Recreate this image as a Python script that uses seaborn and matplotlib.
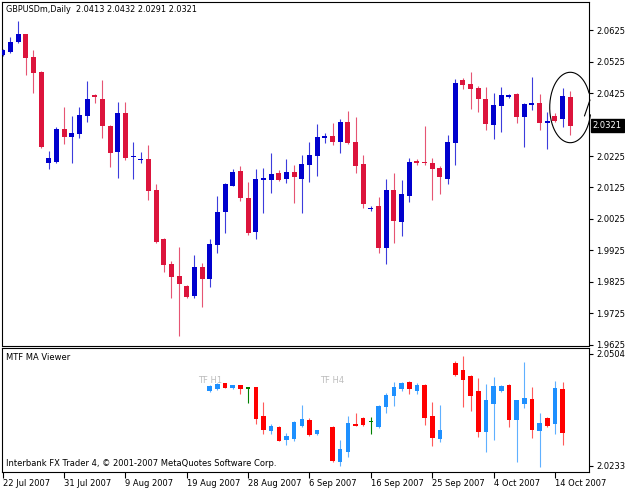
import numpy as np
import pandas as pd
import seaborn as sns
import matplotlib
matplotlib.use("Agg")
import matplotlib.pyplot as plt
import matplotlib.transforms as mtrans

# ---------------- data ----------------
symbol = "GBPUSDm,Daily"
main_open = [2.0546, 2.0556, 2.0586, 2.0612, 2.0538, 2.0493, 2.0202, 2.0207, 2.0310, 2.0286,
             2.0295, 2.0353, 2.0419, 2.0407, 2.0321, 2.0238, 2.0361, 2.0222, 2.0213, 2.0215,
             2.0117, 1.9961, 1.9881, 1.9844, 1.9813, 1.9781, 1.9874, 1.9835, 1.9942, 2.0048,
             2.0131, 2.0178, 2.0093, 1.9985, 2.0149, 2.0149, 2.0170, 2.0151, 2.0173, 2.0152,
             2.0196, 2.0225, 2.0282, 2.0288, 2.0270, 2.0334, 2.0270, 2.0200, 2.0057, 2.0067,
             1.9932, 2.0117, 2.0016, 2.0099, 2.0209, 2.0206, 2.0202, 2.0186, 2.0152, 2.0267,
             2.0466, 2.0453, 2.0440, 2.0407, 2.0323, 2.0384, 2.0413, 2.0422, 2.0350, 2.0387,
             2.0392, 2.0329, 2.0353, 2.0341, 2.0413]
main_high = [2.0565, 2.0602, 2.0654, 2.0613, 2.0562, 2.0495, 2.0242, 2.0316, 2.0380, 2.0352,
             2.0380, 2.0463, 2.0422, 2.0466, 2.0322, 2.0397, 2.0395, 2.0270, 2.0239, 2.0260,
             2.0136, 1.9964, 1.9893, 1.9937, 1.9815, 1.9911, 1.9886, 1.9962, 2.0098, 2.0140,
             2.0183, 2.0194, 2.0142, 2.0183, 2.0186, 2.0234, 2.0181, 2.0215, 2.0196, 2.0228,
             2.0270, 2.0326, 2.0299, 2.0331, 2.0341, 2.0368, 2.0350, 2.0228, 2.0067, 2.0094,
             2.0151, 2.0172, 2.0149, 2.0218, 2.0215, 2.0320, 2.0218, 2.0193, 2.0292, 2.0468,
             2.0472, 2.0493, 2.0447, 2.0443, 2.0424, 2.0443, 2.0422, 2.0424, 2.0392, 2.0477,
             2.0422, 2.0366, 2.0361, 2.0440, 2.0432]
main_low = [2.0543, 2.0553, 2.0585, 2.0482, 2.0424, 2.0250, 2.0183, 2.0204, 2.0263, 2.0204,
            2.0281, 2.0334, 2.0392, 2.0281, 2.0189, 2.0154, 2.0212, 2.0152, 2.0204, 2.0085,
            1.9950, 1.9858, 1.9773, 1.9654, 1.9775, 1.9773, 1.9745, 1.9808, 1.9918, 1.9980,
            2.0130, 2.0083, 1.9974, 1.9961, 2.0043, 2.0109, 2.0147, 2.0138, 2.0077, 2.0043,
            2.0142, 2.0161, 2.0267, 2.0260, 2.0234, 2.0263, 2.0170, 2.0061, 2.0051, 1.9916,
            1.9881, 1.9950, 1.9971, 2.0080, 2.0196, 2.0198, 2.0085, 2.0104, 2.0136, 2.0196,
            2.0437, 2.0373, 2.0366, 2.0308, 2.0278, 2.0302, 2.0410, 2.0331, 2.0255, 2.0371,
            2.0308, 2.0246, 2.0334, 2.0316, 2.0291]
main_close = [2.0562, 2.0586, 2.0611, 2.0535, 2.0489, 2.0253, 2.0218, 2.0311, 2.0286, 2.0297,
              2.0355, 2.0407, 2.0411, 2.0320, 2.0236, 2.0361, 2.0220, 2.0225, 2.0215, 2.0115,
              1.9953, 1.9879, 1.9842, 1.9818, 1.9778, 1.9874, 1.9835, 1.9946, 2.0048, 2.0136,
              2.0175, 2.0091, 1.9982, 2.0151, 2.0156, 2.0168, 2.0149, 2.0173, 2.0157, 2.0200,
              2.0228, 2.0286, 2.0288, 2.0270, 2.0334, 2.0267, 2.0194, 2.0073, 2.0061, 1.9932,
              2.0117, 2.0019, 2.0103, 2.0207, 2.0203, 2.0203, 2.0183, 2.0157, 2.0270, 2.0458,
              2.0450, 2.0437, 2.0405, 2.0327, 2.0387, 2.0419, 2.0419, 2.0350, 2.0389, 2.0392,
              2.0329, 2.0336, 2.0337, 2.0415, 2.0321]

# MTF MA Viewer indicator (bar index, OHLC)
ind_index = [27, 28, 29, 30, 31, 32, 33, 34, 35, 36, 37, 38, 39, 40, 41,
             43, 44, 45, 46, 47, 48, 49, 50, 51, 52, 53, 54, 55, 56, 57,
             59, 60, 61, 62, 63, 64, 65, 66, 67, 68, 69, 70, 71, 72, 73]
ind_open = [2.0413, 2.0419, 2.0433, 2.0421, 2.0428, 2.0421, 2.0423, 2.0354, 2.0316, 2.0328,
            2.0295, 2.0297, 2.0329, 2.0344, 2.0309,
            2.0328, 2.0243, 2.0267, 2.0334, 2.0348, 2.0340, 2.0328, 2.0375, 2.0402, 2.0418,
            2.0437, 2.0413, 2.0429, 2.0354, 2.0297,
            2.0481, 2.0465, 2.0451, 2.0413, 2.0315, 2.0382, 2.0413, 2.0429, 2.0344, 2.0383,
            2.0394, 2.0317, 2.0349, 2.0334, 2.0419]
ind_high = [2.0429, 2.0434, 2.0434, 2.0429, 2.0429, 2.0423, 2.0423, 2.0388, 2.0334, 2.0329,
            2.0312, 2.0342, 2.0380, 2.0348, 2.0320,
            2.0330, 2.0295, 2.0354, 2.0360, 2.0351, 2.0352, 2.0380, 2.0409, 2.0437, 2.0436,
            2.0439, 2.0433, 2.0431, 2.0388, 2.0380,
            2.0486, 2.0498, 2.0453, 2.0445, 2.0430, 2.0447, 2.0428, 2.0431, 2.0393, 2.0484,
            2.0423, 2.0362, 2.0350, 2.0439, 2.0435]
ind_low = [2.0411, 2.0417, 2.0421, 2.0420, 2.0406, 2.0384, 2.0334, 2.0309, 2.0310, 2.0293,
           2.0283, 2.0294, 2.0326, 2.0305, 2.0308,
           2.0243, 2.0232, 2.0253, 2.0329, 2.0330, 2.0310, 2.0324, 2.0360, 2.0378, 2.0413,
           2.0407, 2.0407, 2.0332, 2.0281, 2.0291,
           2.0450, 2.0376, 2.0366, 2.0302, 2.0267, 2.0295, 2.0412, 2.0326, 2.0243, 2.0372,
           2.0300, 2.0231, 2.0327, 2.0310, 2.0282]
ind_close = [2.0427, 2.0431, 2.0422, 2.0428, 2.0418, 2.0421, 2.0346, 2.0320, 2.0329, 2.0294,
             2.0305, 2.0340, 2.0346, 2.0307, 2.0319,
             2.0245, 2.0273, 2.0336, 2.0329, 2.0332, 2.0340, 2.0378, 2.0405, 2.0423, 2.0434,
             2.0418, 2.0429, 2.0348, 2.0299, 2.0320,
             2.0453, 2.0441, 2.0402, 2.0315, 2.0392, 2.0427, 2.0427, 2.0344, 2.0392, 2.0397,
             2.0320, 2.0336, 2.0329, 2.0422, 2.0312]
tf_label_bars = [27, 43]
tf_labels = ["TF H1", "TF H4"]

date_tick_bars = [0, 8, 16, 24, 32, 40, 48, 56, 64, 72]
date_tick_labels = ["22 Jul 2007", "31 Jul 2007", "9 Aug 2007", "19 Aug 2007", "28 Aug 2007",
                    "6 Sep 2007", "16 Sep 2007", "25 Sep 2007", "4 Oct 2007", "14 Oct 2007"]
main_price_ticks = [2.0625, 2.0525, 2.0425, 2.0225, 2.0125, 2.0025, 1.9925, 1.9825, 1.9725, 1.9625]
ind_price_ticks = [2.0504, 2.0233]

# hand-drawn circle annotation (bar units, price units)
circle_center = (74.0, 2.0379)
circle_radii = (2.68, 0.01118)

# ---------------- style ----------------
sns.set_theme(style="white")
plt.rcParams["font.family"] = ["DejaVu Sans"]
plt.rcParams["axes.edgecolor"] = "black"
plt.rcParams["axes.linewidth"] = 0.8

W, H = 625, 488
fig = plt.figure(figsize=(W / 100, H / 100), dpi=100)
fig.patch.set_facecolor("white")


def px_axes(left, top, right, bottom):
    return fig.add_axes([left / W, 1 - bottom / H, (right - left) / W, (bottom - top) / H])


ax = px_axes(2, 2, 589.3, 345.5)
ax2 = px_axes(2, 347.8, 589.3, 471.5)

xlim = (-0.091, 76.48)


def draw_candles(a, df, colors, width, min_h, lw=0.8):
    diff = df["c"] - df["o"]
    kind = np.where(diff > 0, "up", np.where(diff < 0, "down", "eq"))
    body_c = [colors[k][0] for k in kind]
    wick_c = [colors[k][1] for k in kind]
    a.vlines(df["x"], df["l"], df["h"], colors=wick_c, linewidth=lw, zorder=2)
    lo = np.minimum(df["o"], df["c"])
    hgt = np.abs(diff)
    small = hgt < min_h
    mid = (df["o"] + df["c"]) / 2
    bottom = np.where(small, mid - min_h / 2, lo)
    hgt = np.where(small, min_h, hgt)
    a.bar(df["x"], hgt, width=width, bottom=bottom, color=body_c, linewidth=0, zorder=3)


main_df = pd.DataFrame({"x": np.arange(len(main_open)), "o": main_open, "h": main_high,
                        "l": main_low, "c": main_close})
main_colors = {"up": ("#0000CD", "#3c3cdc"), "down": ("#DC143C", "#e65573"),
               "eq": ("#0000CD", "#3c3cdc")}
draw_candles(ax, main_df, main_colors, 0.65, 1.0 / 3150)

ind_df = pd.DataFrame({"x": ind_index, "o": ind_open, "h": ind_high, "l": ind_low, "c": ind_close})
ind_colors = {"up": ("#1E90FF", "#5fb0ff"), "down": ("#FF0000", "#ff5a5a"),
              "eq": ("#008000", "#008000")}
draw_candles(ax2, ind_df, ind_colors, 0.6, 1.5 * 0.0002426)

# ---------------- axes setup ----------------
ax.set_xlim(*xlim)
ax.set_ylim(1.96234, 2.07139)
ax2.set_xlim(*xlim)
ax2.set_ylim(2.02189, 2.05190)

for a in (ax, ax2):
    a.set_facecolor("white")
    a.grid(False)
    for s in a.spines.values():
        s.set_visible(True)
        s.set_color("black")
        s.set_linewidth(0.8)
    a.yaxis.tick_right()
    a.tick_params(axis="y", which="both", right=True, left=False, labelright=True,
                  labelleft=False, direction="out", length=3, width=0.8, pad=2,
                  labelsize=6, colors="black")

ax.set_xticks([])
ax.set_yticks(main_price_ticks)
ax.set_yticklabels([f"{t:.4f}" for t in main_price_ticks])

ax2.set_yticks(ind_price_ticks)
ax2.set_yticklabels([f"{t:.4f}" for t in ind_price_ticks])

ax2.set_xticks(date_tick_bars)
ax2.set_xticklabels(date_tick_labels)
ax2.tick_params(axis="x", bottom=True, direction="out", length=4, width=0.8, pad=1.5,
                labelsize=6, colors="black")
for lbl in ax2.get_xticklabels():
    lbl.set_horizontalalignment("left")

# last price box
last = main_df.iloc[-1]
ax.annotate(f"{last['c']:.4f}", xy=(1.0, last["c"]),
            xycoords=mtrans.blended_transform_factory(ax.transAxes, ax.transData),
            xytext=(2.5, 0), textcoords="offset points", ha="left", va="center",
            fontsize=6, color="white",
            bbox=dict(boxstyle="square,pad=0.25", facecolor="black", edgecolor="black"),
            annotation_clip=False)

# texts
fig.text(6 / W, 1 - 10 / H,
         f"{symbol}  {last['o']:.4f} {last['h']:.4f} {last['l']:.4f} {last['c']:.4f}",
         fontsize=5.9, color="black", ha="left", va="center")
fig.text(6 / W, 1 - 357 / H, "MTF MA Viewer", fontsize=6, color="black", ha="left", va="center")
fig.text(6 / W, 1 - 464 / H, "Interbank FX Trader 4, \u00a9 2001-2007 MetaQuotes Software Corp.",
         fontsize=6, color="black", ha="left", va="center")
for b, t in zip(tf_label_bars, tf_labels):
    ax2.text(b, 0.735, t, transform=mtrans.blended_transform_factory(ax2.transData, ax2.transAxes),
             fontsize=6, color="#bdbdbd", ha="center", va="center")

# hand-drawn circle (open on the right side)
t = np.deg2rad(np.linspace(24, 348, 200))
ax.plot(circle_center[0] + circle_radii[0] * np.cos(t),
        circle_center[1] + circle_radii[1] * np.sin(t),
        color="black", linewidth=0.8, clip_on=False, zorder=5)
ax.plot([75.85, 76.57], [2.0352, 2.0403], color="black", linewidth=0.8, clip_on=False, zorder=5)

fig.savefig("out.png", dpi=100, facecolor="white")
